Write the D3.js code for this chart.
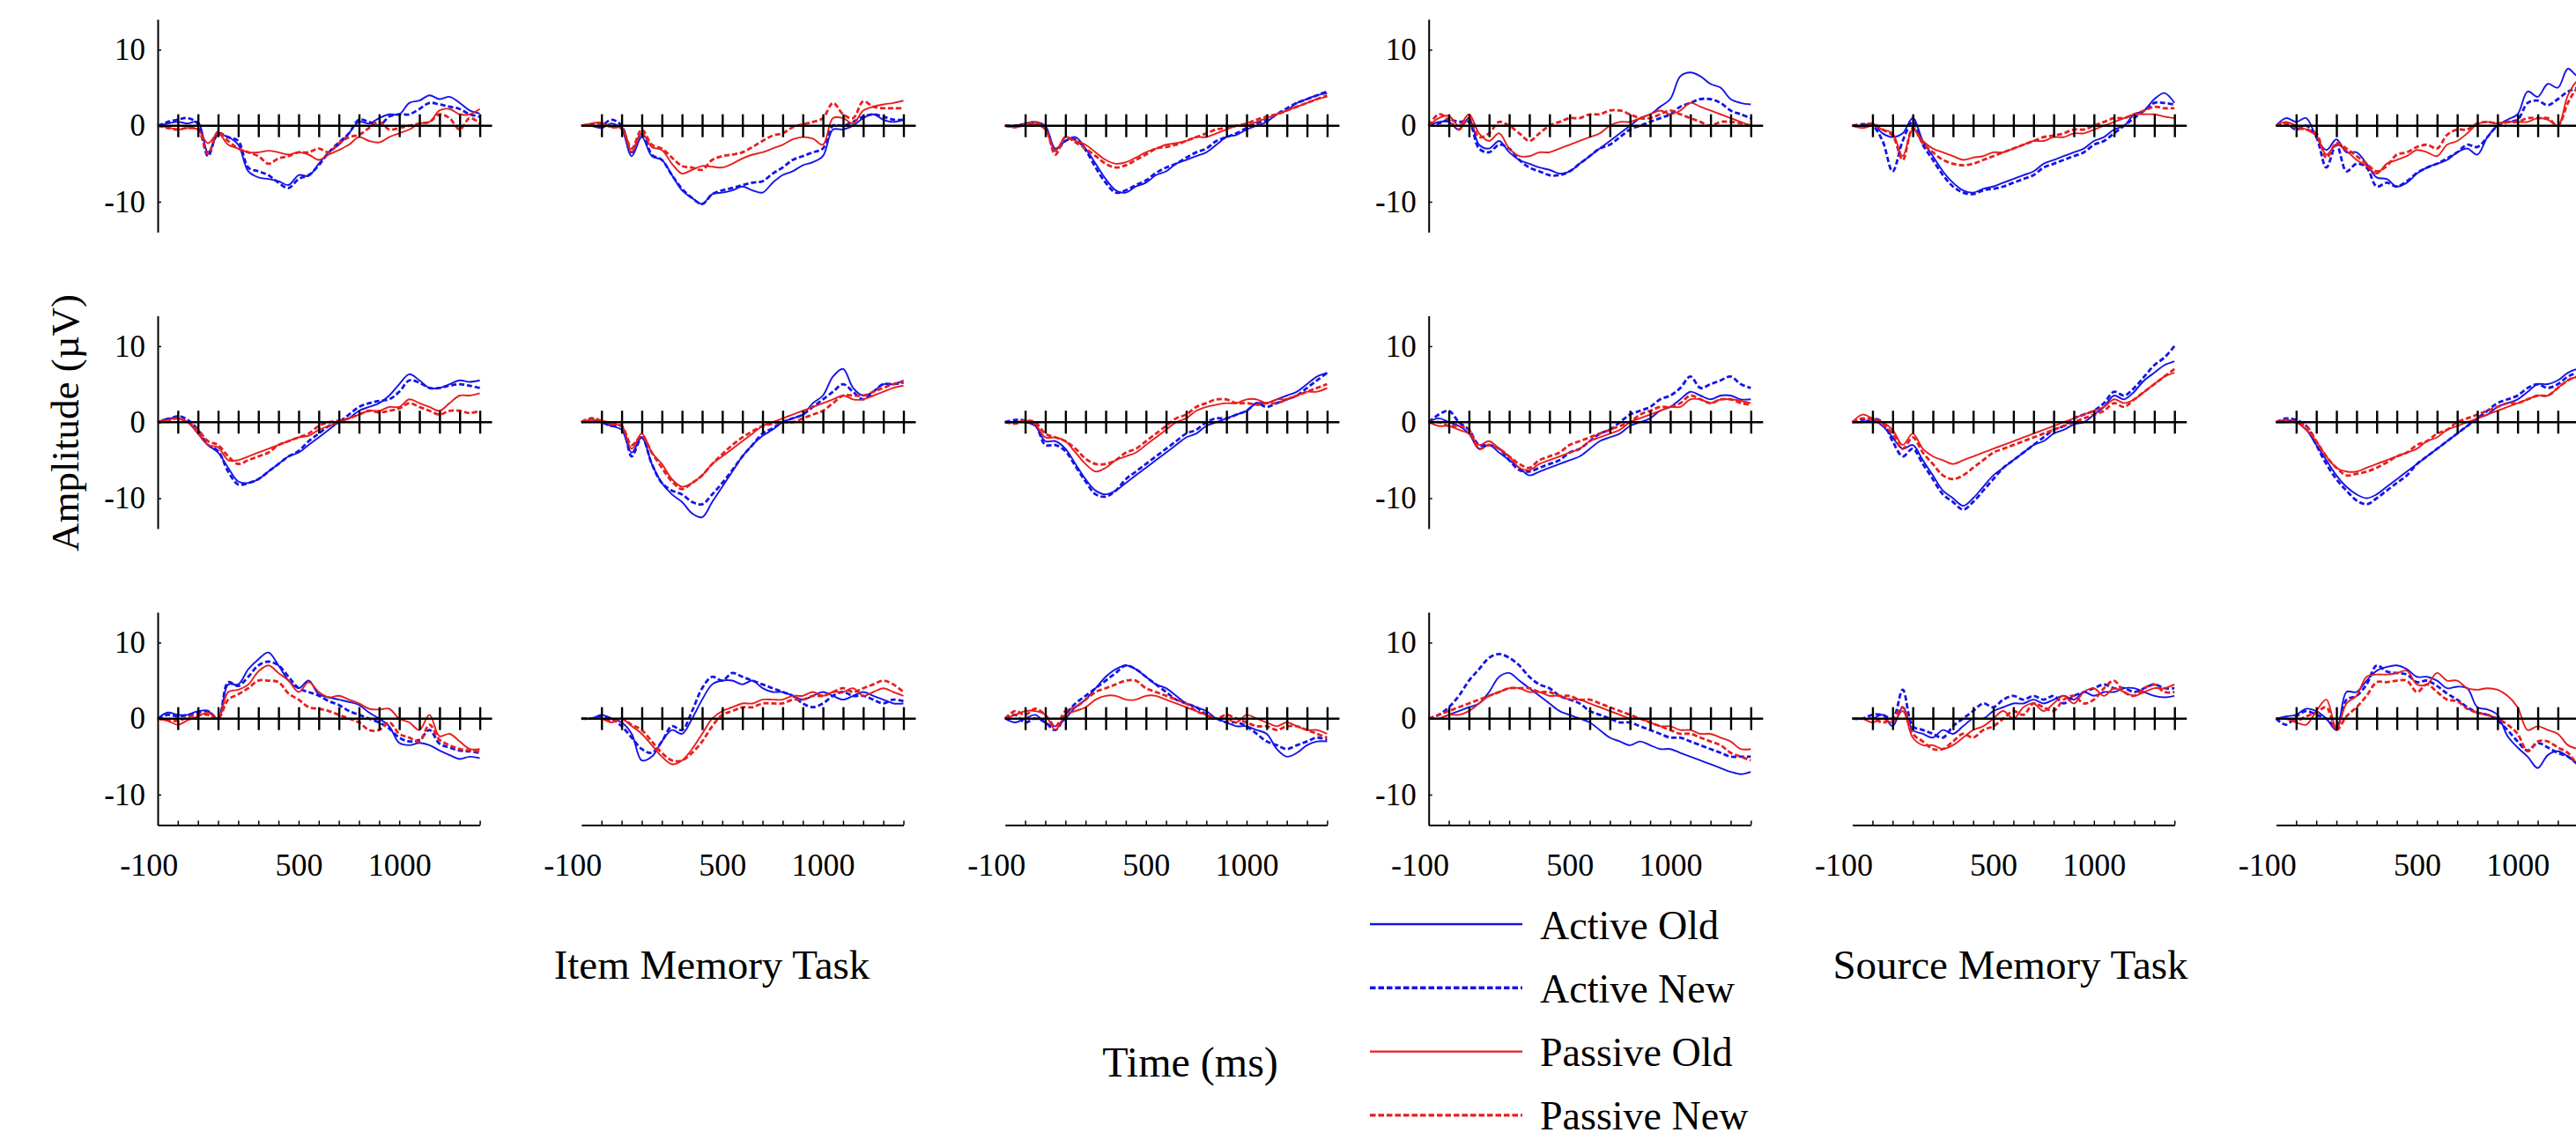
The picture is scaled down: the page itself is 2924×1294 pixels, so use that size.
<!DOCTYPE html>
<html>
<head>
<meta charset="utf-8">
<script src="https://cdn.jsdelivr.net/npm/d3@7"></script>
<style>
  body { margin: 0; background: #fff; }
  svg text { font-family: "Liberation Serif", "Times New Roman", serif; fill: #000; }
</style>
</head>
<body>
<script>
// sample times (ms) of every trace
const times = [-200,-150,-100,-50,0,50,100,150,200,250,300,350,400,450,500,550,600,650,700,750,800,850,900,950,1000,1050,1100,1150,1200,1250,1300,1350,1400];
const seriesNames = ["Active Old", "Active New", "Passive Old", "Passive New"];
const yTicks = [-10, 0, 10];
const xTicks = [-100,0,100,200,300,400,500,600,700,800,900,1000,1100,1200,1300,1400];
const xTickLabels = [-100, 500, 1000];
const taskLabels = ["Item Memory Task", "Source Memory Task"];

// each panel: [Active Old, Active New, Passive Old, Passive New] in µV
const item_r1_c1 = [
  [0,0.3,0.5,0.3,0.5,-3.5,-1.2,-1.5,-2.5,-6,-6.8,-7,-7.3,-7.8,-6.5,-6.6,-5,-3.5,-2.5,-1,0.5,0.3,1,1.5,1.5,3,3.3,4,3.5,3.8,3,2,1.6],
  [0,0.5,0.8,1,0.2,-4,-1,-1.5,-2,-5.5,-6,-6.5,-7.5,-8.2,-7,-6.5,-5.2,-3.5,-2.2,-1,0.8,0.5,0,1.2,1.5,1.5,2.2,3,2.8,2.5,2.2,1.5,1.2],
  [0,-0.2,-0.5,-0.3,-0.5,-2.3,-1,-2.5,-3,-3.5,-3.5,-3.3,-3.5,-3.8,-3.5,-3.8,-4.5,-3.8,-3.2,-2.5,-1.5,-2,-2.2,-1.5,-1,-0.5,0.3,0.5,2,2.2,1.5,1.5,2.2],
  [0,-0.3,-0.5,-0.3,-0.5,-3.7,-0.8,-2,-3,-3.5,-4,-5,-4.3,-4,-3.5,-3.5,-3,-3.5,-2.3,-1.5,-1.2,-0.3,0.5,-0.5,-0.3,0,0.3,0.5,1.5,1,-0.5,1,0.3]
];
const item_r1_c2 = [
  [0,0,-0.3,0.3,-0.5,-4,-1.5,-4,-4.5,-6.5,-8.5,-9.5,-10.3,-9,-8.8,-8.5,-8,-8.5,-8.8,-7.5,-6.5,-6,-5.2,-4.8,-4,-0.5,-0.5,0,1,1.5,0.8,0.5,0.8],
  [0,0,0,0.8,0,-3.5,-1,-3.8,-4.5,-6.5,-8.3,-9.5,-10.3,-9,-8.5,-8.2,-7.8,-7.5,-7.3,-6.3,-5.5,-4.5,-4,-3.5,-3,0,0,0.5,1.2,1.5,1.2,0.8,0.8],
  [0,0.3,0.4,-0.2,-0.3,-3.5,-1,-2.8,-3.2,-5,-6.3,-5.8,-5.3,-5.4,-5.5,-5,-4.3,-3.8,-3.5,-3,-2.5,-1.8,-1.5,-1.7,-2.5,1,1,0.3,2,2.5,2.8,3,3.3],
  [0,0.2,0.3,-0.2,-0.3,-3,-0.5,-2.5,-3,-4.2,-5.3,-5.5,-5.8,-4.5,-4,-3.8,-3.5,-2.8,-2,-1.3,-1,-0.2,0.2,0.5,1,3,1.5,1,3.2,2.5,2.3,2.3,2.3]
];
const item_r1_c3 = [
  [0,0,0.3,0.5,0,-3,-2,-1.5,-3,-5,-7,-8.5,-8.8,-8,-7.5,-6.5,-6,-5,-4.5,-4,-3.5,-2.5,-1.5,-1.2,-0.5,0,0.5,1.5,2,3,3.5,4,4.3],
  [0,0,0.2,0.3,-0.3,-3.3,-2,-1.8,-3.2,-5.5,-7.5,-8.8,-8.5,-7.8,-7.2,-6.2,-5.5,-5,-4.2,-3.5,-3,-2,-1.5,-1,-0.3,0.3,0.8,1.5,2.3,3,3.5,4,4.5],
  [0,-0.2,0,0.2,-0.5,-3.3,-1.5,-2,-2.5,-3.5,-4.5,-5,-4.8,-4.2,-3.5,-3,-2.5,-2.3,-2,-1.5,-1.5,-1,-0.5,0,0,0.5,1,1.5,2,2.5,3,3.5,3.8],
  [0,-0.2,0.2,0.5,-0.3,-3.8,-1.5,-2.2,-3,-4,-5,-5.5,-5.2,-4.5,-3.8,-3,-2.8,-2.5,-2,-1.5,-1,-0.5,-0.3,0,0.3,0.8,1.2,1.5,2,2.5,3,3.5,4]
];
const source_r1_c1 = [
  [0,0.5,0.5,-0.5,1,-2.5,-3,-2,-3.5,-4.5,-5,-5.5,-5.8,-6.3,-6,-5,-4,-3,-2,-1,0,1,1.5,2.5,3.5,6.5,7,6.5,5.5,5,3.5,3,2.8],
  [0,0.3,0.8,0.5,0.5,-3,-3.5,-2.5,-3,-4.5,-5.5,-6,-6.5,-6.5,-6,-5,-4,-3,-2.5,-1.5,-0.5,0,0.5,1,1.5,2.5,3,3.5,3.5,3,2,1.5,1],
  [0,1,1.3,0,1.5,-1,-2,-1,-3,-4,-4,-3.5,-3.5,-3,-2.5,-2,-1.5,-1,0,0.5,0.5,1,1.5,2,1.5,2,3,2.5,2,1.5,1,0.5,0],
  [0,1.5,0.8,-0.5,1,-1.5,-1,0.5,0,-1,-2,-1,0,0.5,1,1,1.5,1.5,2,2,1.5,1,1,1.5,2,1.5,1,0.5,0,0.5,0.5,0.3,0]
];
const source_r1_c2 = [
  [0,0,0.3,-1,-1.5,-1,1,-2,-4,-6,-7.5,-8.5,-8.8,-8.3,-8,-7.5,-7,-6.5,-6,-5,-4.5,-4,-3.5,-3,-2,-1.5,-0.5,0,1.5,2,3.5,4.3,3],
  [0,0.2,0,-2,-6,-2,0.5,-2.5,-4.5,-6.5,-8,-8.8,-9,-8.5,-8.3,-8,-7.5,-7,-6.5,-5.5,-5,-4.5,-4,-3.5,-2.5,-2,-1,0,1,2,3,3,2.8],
  [0,-0.3,0,-0.5,-1,-4,-0.5,-2,-3,-3.5,-4,-4.5,-4.2,-4,-3.5,-3.5,-3,-2.5,-2,-2,-1.5,-1.5,-1,-1,-0.5,0,0.5,1,1.5,1.5,1.5,1.2,1],
  [0,0,0.3,-0.5,-1.3,-4.5,-0.3,-2.3,-3.5,-4.5,-5,-5.2,-5,-4.5,-4,-3.5,-3,-2.5,-2,-1.5,-1.3,-1,-0.5,-0.5,0,0.5,1,1,1.5,2,2.5,2.3,2.3]
];
const source_r1_c3 = [
  [0,1,0.5,1,-1.5,-3.2,-1.8,-3.5,-3.5,-5,-6.8,-7,-8,-7.5,-6.3,-5.5,-5,-4.5,-3.5,-3,-3.8,-1.5,0,0.8,1.5,4.5,3.8,5.5,5,7.5,6.5,7,6.5],
  [0,0.3,-0.5,0,-1.5,-5.5,-2.5,-6,-5,-5.5,-8,-7.5,-8,-7.3,-6.2,-5.5,-5,-4.3,-3.5,-2.5,-2.8,-1.5,0,0.5,0.8,3,3.3,2.7,3.5,4.5,5,5.5,5],
  [0,0.5,0,-0.5,-1.3,-3.8,-2.5,-3.3,-4.5,-5.3,-6.3,-5,-4.5,-4,-3.2,-3.5,-4,-2.5,-2,-1,0.2,0.5,0.3,0.5,0.5,0.5,1,0.8,0,4,6,6.5,6],
  [0,0.3,-0.3,-0.5,-1,-4.2,-2.3,-3,-4,-5,-6,-5.3,-3.8,-3.5,-2.8,-2.5,-3,-1.2,-0.5,-0.5,0.3,0.5,0.3,0.5,0.5,1,1,1,0,3,5,5.5,5]
];
const item_r2_c1 = [
  [0,0.5,0.5,0,-1.5,-3,-4,-6,-7.8,-8,-7.5,-6.5,-5.5,-4.5,-4,-3,-2,-1,0,0.5,1.5,2,2.5,3.5,5,6.3,5.5,4.5,4.5,5,5.5,5.3,5.5],
  [0,0.3,0.8,0.3,-1,-3,-3.8,-6.5,-8.2,-8,-7.5,-6.5,-5.5,-4.5,-3.8,-2.5,-1.5,-0.5,0,1,2,2.5,2.8,3,4,5.5,5.2,4.5,4.5,4.8,5,4.8,4.5],
  [0,0.3,0.5,0,-1.5,-3,-3.3,-5,-5,-4.5,-4,-3.5,-3,-2.5,-2,-1.8,-1,-0.5,0,0.5,1,1.5,1.5,2,2,3,2.5,2,1.5,2.5,3.5,3.5,3.8],
  [0,0.2,0.5,0,-1,-2.5,-3,-4.5,-5.5,-5,-4.5,-4,-3,-2.5,-2,-1.5,-0.5,0,0.2,0.5,1,1.5,1.3,1.5,1.8,2.5,2,1.5,1,1.5,1.5,1.2,1.5]
];
const item_r2_c2 = [
  [0,0.3,0,-0.5,-1,-4,-2,-5.5,-8,-9.5,-10.5,-12,-12.5,-10.5,-8.5,-6.5,-4.5,-3,-1.8,-1,0,0.5,1,2.5,3.5,6,7,4.5,3.5,4,5,5,5.5],
  [0,0.5,0,-0.5,-0.5,-4.5,-2,-5.5,-8,-9,-9.5,-10.5,-10.8,-9.5,-8,-6.3,-4.5,-3,-1.5,-0.8,0,0.5,1,2,3,4,5,4,3,4,5,5,5.2],
  [0,0.3,0.2,-0.3,-0.5,-3.5,-1.5,-4,-5.5,-7.5,-8.5,-8,-7,-5.5,-4.5,-3.5,-2.5,-1.5,-0.5,0,0.5,1,1.5,2,2.5,3,3.5,3,3,3.5,4,4.5,4.8],
  [0,0.5,0.2,-0.2,-0.5,-3,-1.8,-4,-6,-7.8,-8.8,-8,-7,-5.5,-4.2,-3,-2,-1.2,-0.5,-0.2,0,0,0.5,1,1.5,2.5,3.5,3.5,3.5,4,4.5,5,5.3]
];
const item_r2_c3 = [
  [0,0,0,-0.5,-2.5,-2.5,-3.5,-5.5,-7.5,-9,-9.5,-9,-8,-7,-6,-5,-4,-3,-2,-1.5,-0.5,0,0.5,1,1.5,2.5,2.5,3,3.5,4,5,6,6.5],
  [0,0.3,0.2,-0.3,-3,-3,-3.8,-5.8,-7.8,-9.5,-9.8,-9,-7.5,-6.5,-5.5,-4.5,-3.5,-2.5,-1.5,-1,0,0.5,0.5,1,1.5,2.5,2,2.5,3,3.5,4.5,5.5,6.5],
  [0,0,0.2,-0.3,-2,-2,-2.5,-4,-5.5,-6.5,-6,-5,-4.5,-4,-3,-2,-1,0,0.5,1.5,2,2.3,2.5,2.5,3,3,2.5,3,3,3.5,4,4,4.5],
  [0,-0.2,0.2,0,-1.5,-2,-2.5,-3.5,-4.8,-5.5,-5.5,-5,-4,-3.5,-2.5,-1.5,-0.5,0.5,1,2,2.5,3,3,2.5,2.5,2.3,2.5,2.5,3,3.5,4,4.5,5]
];
const source_r2_c1 = [
  [0,0.5,0,-0.5,-1.5,-3.5,-3,-4,-5,-6,-7,-6.5,-6,-5.5,-5,-4.5,-3.5,-2.5,-2,-1.5,-0.5,0,0.5,1.5,2,3,4,3.5,3,3.5,3.5,3,3],
  [0,1,1.5,0,-1,-3,-3,-3.5,-5,-6.3,-6.5,-6,-5.5,-5,-4,-3.5,-2.5,-1.5,-1,0,1,1.5,2,3,3.5,4.5,6,4.5,5,5.5,6,5,4.5],
  [0,-0.5,-0.5,-1,-1.5,-3,-2.5,-3.5,-4.5,-6,-6.3,-5.5,-5,-4.5,-4,-3.5,-2.5,-2,-1.5,-1,0,0.5,1,1.5,2,2,3,3,2.5,3,3,2.8,2.5],
  [0,0,-0.5,-0.5,-1,-3.5,-3,-3.5,-4.5,-5.5,-6,-5,-4.5,-4,-3,-2.5,-2,-1.5,-1,-0.5,0,1,1.5,2,2,2.5,3.5,3,2.5,3,3,2.5,2.3]
];
const source_r2_c2 = [
  [0,0,0.3,-0.5,-2,-3.5,-3,-5,-7,-9,-10,-11,-10,-8.5,-7,-6,-5,-4,-3,-2.5,-1.5,-1,-0.3,0,1,2,3.5,3,4,5.5,6.5,7.5,8],
  [0,0.3,0.5,0,-2.5,-4.5,-3.5,-5.5,-7.5,-9.5,-10.5,-11.5,-10.5,-9,-7.5,-6,-5,-4,-3,-2,-1,-0.5,0.5,1,1.5,2.5,4,3.5,4.5,6,7.5,8.5,10],
  [0,1,0.5,0,-1,-3,-1.5,-3.5,-4.5,-5,-5.5,-5,-4.5,-4,-3.5,-3,-2.5,-2,-1.5,-1,-0.5,0,0.5,1,1.5,2,3,2.5,3,4,5,6,6.5],
  [0,0.5,0.3,-0.3,-1.5,-3.5,-2,-4,-5.5,-7,-7.5,-7,-6,-5,-4,-3.5,-3,-2.5,-2,-1.5,-1,-0.5,0,0.5,1,1.5,2.5,2,3,4,5,6,7]
];
const source_r2_c3 = [
  [0,0.3,0,-1,-3,-5,-7,-8.5,-9.5,-10,-9.5,-8.5,-7.5,-6.5,-5.5,-4.5,-3.5,-2.5,-1.5,-0.5,0.5,1,2,2.5,3,4,5,5,5.5,6.5,7,7,7],
  [0,0.5,0.3,-0.5,-3,-5.5,-7.5,-9,-10.3,-10.8,-10,-9,-8,-7,-5.5,-4.5,-3.5,-2.5,-1.5,-0.5,0.5,1.5,2.5,3,3.5,4.5,5,4.5,5,6,6.5,6.5,6.5],
  [0,0,0,-1,-2.5,-4.5,-6,-6.5,-6.5,-6,-5.5,-5,-4.5,-4,-3.5,-2.5,-2,-1,-0.5,0,0.5,1,1.5,2,2.5,3,3.5,3.5,4.5,5.5,6,6,6],
  [0,0.3,0,-0.5,-2.5,-4.5,-6,-7,-6.8,-6.5,-6,-5.3,-4.5,-4,-3,-2.5,-1.5,-1,0,0.5,1,1.5,2,2.5,2.5,3,3.5,3.5,4.5,5.5,6,6,6]
];
const item_r3_c1 = [
  [0,0.8,0.5,0.5,1,1,0,4.5,4.5,6.5,7.8,8.7,7,5,4,5,3.2,2.8,2.5,2.2,1.8,0.8,0,-1,-3.2,-3.5,-3.2,-3.5,-4.2,-4.8,-5.3,-5,-5.2],
  [0,0.5,0.3,0.5,0.8,1,0,4.8,4.3,5.5,7,7.5,7,5.5,4,3.5,3,2.3,1.8,1,0.5,0,-0.5,-1.3,-2.5,-3,-2.8,-1.5,-3.3,-3.8,-4.2,-4.3,-4.5],
  [0,-0.3,-0.8,-0.2,0.3,0.8,0,3.5,3.8,4.5,6.2,7,6,5,3.5,4.8,3.5,2.8,3,2.5,2,1.3,1.2,1.3,0,-0.5,-1.5,0.5,-2.3,-2,-3,-4,-4],
  [0,-0.2,-0.3,0.2,0.5,0.5,0,2.5,3.2,4,5,5,4.8,3.3,2.5,1.5,1.3,1,0.5,0,-0.5,-1.5,-1.5,-0.5,-2,-2.5,-3,-0.8,-2.8,-3.5,-4,-4.2,-4.3]
];
const item_r3_c2 = [
  [0,0,0.5,0,-0.5,-2,-5.5,-5,-3,-1.5,-2,0,2.5,4.5,5,5,4.5,5,4,3.5,3.5,3,2.5,3,3.5,3,2.5,3,3.5,3,2.5,2,2],
  [0,0,0.3,0,-1,-2.5,-4,-4.5,-3,-1,-1.5,1,4,5.5,5,6,5.5,5,4.5,4,3.5,3,2,1.5,2,3,3.5,3,3,2.5,2,2.5,2.3],
  [0,0,0,-0.5,0,-1,-2,-3.5,-5,-6,-5.5,-4,-2,0,1,1.5,2,2,2.5,2.5,2.5,3,3,3.5,3,3.5,3.5,4,3,3.5,4,3.5,3],
  [0,0,0,-0.3,0,-0.8,-1.5,-3,-4.5,-5.5,-5.5,-4.5,-3,-1,0.5,1,1.5,1.5,2,2,2,2.5,2.5,3,3,3.5,4,3.5,4,4.5,5,4.5,3.5]
];
const item_r3_c3 = [
  [0,-0.5,0,0.5,-0.5,-1,0,1.5,2.5,4,5.5,6.5,7,6.5,5.5,4.5,4,3,2,1.5,1,0,-0.5,-1,-1,-1.5,-2,-4,-5,-4.5,-3.5,-3,-3],
  [0,0.5,-0.5,0,-0.5,-1.5,0.5,2,3,4,5,6,7,6.5,5.5,4.5,3.5,2.5,2,1.5,0.5,0,-0.5,-0.5,-1,-2,-3,-3.5,-4,-3.5,-3,-2.5,-2.8],
  [0,0.5,1,1,0.5,-1.5,0.5,1,1.5,2.5,3,3,2.5,2.5,3,3,2.5,2,1.5,1,0.5,0,0,-0.5,0.5,0,-0.5,-1,-0.5,-1,-1.5,-1.5,-2],
  [0,1,0.5,1.3,0.5,-1,1,1.5,2.5,3.5,4,4.5,5,5,4,3.5,3,2.5,2,1,0.5,0,0.5,0,-0.5,-1,-1,-1.5,-1,-1,-1.5,-2,-2.5]
];
const source_r3_c1 = [
  [0,0,0.5,1,1.5,2,3.5,5.5,6,5,4,3,2,1,0.5,0,-0.5,-1.5,-2.5,-3,-3.5,-3,-3.5,-4,-4,-4.5,-5,-5.5,-6,-6.5,-7,-7.3,-7],
  [0,0.5,1.5,3,5,6.5,8,8.5,8,7,5.5,4.5,4,3,2.5,2,1,0.5,0,-0.5,-0.5,-1,-1.5,-2,-2.5,-2.5,-3,-3.5,-4,-4.5,-5,-5,-5],
  [0,0,0.5,0.5,1,2,3,3.5,4,4,3.5,3.5,3,3,2.5,2.5,2,1.5,1,0.5,0,0,-0.5,-1,-1,-1.5,-1.5,-2,-2,-2.5,-3,-4,-4],
  [0,0.5,1,1.5,2,2.5,3,3.5,4,4,4,3.5,3.5,3,3,2.5,2.5,2,1.5,1,0.5,0,-0.5,-1,-1.5,-2,-2,-2.5,-3,-3.5,-4.5,-5,-5.5]
];
const source_r3_c2 = [
  [0,0,0,0.5,-1,1.5,-1.5,-2,-2.5,-1.5,-2,-1,0,0,1,1.5,2,2,2.5,2,2.5,3,2.5,3.5,3,3.5,3.5,4,4,3.5,3,2.8,3],
  [0,0,0.5,0.5,0,3.8,-1,-1.5,-2,-2.5,-1,0,1,2,1.5,2.5,3,2.5,3,2.5,3,2,3,3.5,4,4.5,4,4,3.5,4,4.5,4,4],
  [0,0,-0.5,0,-0.5,1,-2.5,-3.5,-3.5,-4,-3.5,-2.5,-1.5,-1,0,1,0,1.5,2,1,2,3,2,3.5,4,3,4,3.5,3,3.5,4,4,4.5],
  [0,0,0,-0.5,0,1.5,-2,-3,-4,-4,-3,-2,-2.5,-1.5,-1,0,1,0.5,2,1.5,1,2.5,3,2,2.5,4,5,3.5,3,4,4.5,3.5,3.5]
];
const source_r3_c3 = [
  [0,0.3,0.5,1.3,1,0,-1.5,3.5,3.5,5,6.3,6.8,7,6.5,5.5,5.5,5,4,4.2,4,1.5,1.2,0.5,-2.3,-3.8,-5,-6.5,-4.8,-4.3,-5,-6,-6.5,-6.5],
  [0,-0.8,0.3,1,0.5,0,-1,2.5,3,4.5,7,6.2,6,5.8,4.8,5,4.3,3.3,2.5,1.5,0.8,0.5,-0.2,-1.5,-3,-4.2,-3.2,-3.8,-4.5,-5,-6,-6.5,-6.5],
  [0,0,-0.5,-0.8,1,2.5,-1.3,2,3,5.5,5.8,5.8,6,6.3,4.5,4.5,6,5,5,4,3.8,4,3.8,3,1.5,-1.5,-1,-1.5,-2,-3.5,-4,-4.5,-4.5],
  [0,0,-0.3,0.3,0.8,1.5,-1.5,0.3,1.5,3,4.8,4.8,5,5,3.5,4.5,3.5,2.5,2.3,1.3,0.8,0.5,0,-0.8,-2,-4.3,-3,-3,-3.8,-4.5,-6,-6.3,-6.5]
];

const panelGrid = [
  [item_r1_c1, item_r1_c2, item_r1_c3, source_r1_c1, source_r1_c2, source_r1_c3],
  [item_r2_c1, item_r2_c2, item_r2_c3, source_r2_c1, source_r2_c2, source_r2_c3],
  [item_r3_c1, item_r3_c2, item_r3_c3, source_r3_c1, source_r3_c2, source_r3_c3]
];

(function(){
  const SVG_WIDTH = 2924;
  const SVG_HEIGHT = 1294;
  const COL_LEFT = 179, COL_STEP = 480.9, PANEL_W = 365.6;
  const ROW_ZERO = 142.7, ROW_STEP = 336.5, HALF_H = 120.8;
  const FONT = '"Liberation Serif", "Times New Roman", serif';
  const BLUE = '#1414e8', RED = '#e81e1e';
  const colors = [BLUE, BLUE, RED, RED];
  const dashed = [false, true, false, true];

  const svg = d3.select('body').append('svg')
    .attr('width', SVG_WIDTH)
    .attr('height', SVG_HEIGHT);

  function drawPanel(panel, r, c){
    const x0 = COL_LEFT + c * COL_STEP;
    const zeroY = ROW_ZERO + r * ROW_STEP;
    const x = d3.scaleLinear().domain([-200, 1400]).range([x0, x0 + PANEL_W]);
    const y = d3.scaleLinear().domain([-14, 14]).range([zeroY + HALF_H, zeroY - HALF_H]);
    const g = svg.append('g').attr('class', 'panel');

    // ERP traces
    const line = d3.line()
      .x(function(d, i){ return x(times[i]); })
      .y(function(d){ return y(d); })
      .curve(d3.curveCatmullRom.alpha(0.5));
    panel.forEach(function(vals, s){
      g.append('path')
        .datum(vals.slice(0, times.length))
        .attr('fill', 'none')
        .attr('stroke', colors[s])
        .attr('stroke-width', dashed[s] ? 2.8 : 1.9)
        .attr('stroke-dasharray', dashed[s] ? '6,3' : null)
        .attr('stroke-linejoin', 'round')
        .attr('d', line);
    });

    // y axis only on the first panel of each task
    if(c % 3 == 0){
      const ya = g.append('g')
        .attr('transform', 'translate(' + x0 + ',0)')
        .call(d3.axisLeft(y).tickValues(yTicks).tickSizeInner(-4).tickSizeOuter(0)
          .tickPadding(14).tickFormat(function(d){ return String(d); }));
      ya.attr('font-family', FONT).attr('font-size', 35);
      ya.select('.domain').attr('stroke-width', 2);
      ya.selectAll('.tick line').attr('stroke-width', 1.5);
    }

    // zero line with crossing ticks
    g.append('line')
      .attr('x1', x.range()[0]).attr('x2', x.range()[1] + 14)
      .attr('y1', y(0)).attr('y2', y(0))
      .attr('stroke', '#000').attr('stroke-width', 2.4);
    [d3.axisBottom(x), d3.axisTop(x)].forEach(function(ax){
      const zg = g.append('g')
        .attr('transform', 'translate(0,' + y(0) + ')')
        .call(ax.tickValues(xTicks).tickSize(13).tickFormat(''));
      zg.select('.domain').remove();
      zg.selectAll('.tick line').attr('stroke-width', 2.4);
    });

    // time axis on the bottom row
    if(r == 2){
      const xa = g.append('g')
        .attr('transform', 'translate(0,' + y(-14) + ')')
        .call(d3.axisBottom(x).tickValues(xTicks).tickSizeInner(-5).tickSizeOuter(0)
          .tickPadding(32)
          .tickFormat(function(d){ return xTickLabels.indexOf(d) >= 0 ? String(d) : ''; }));
      xa.attr('font-family', FONT).attr('font-size', 36);
      xa.select('.domain').attr('stroke-width', 2);
      xa.selectAll('.tick line').attr('stroke-width', 1.5);
      xa.selectAll('.tick text')
        .filter(function(d){ return d == xTickLabels[0]; })
        .attr('text-anchor', 'end');
    }
  }

  panelGrid.forEach(function(row, r){
    row.forEach(function(panel, c){ drawPanel(panel, r, c); });
  });

  // axis titles
  svg.append('text')
    .attr('transform', 'translate(89,480) rotate(-90)')
    .attr('text-anchor', 'middle')
    .attr('font-size', 45)
    .text('Amplitude (\u00b5V)');
  svg.append('text')
    .attr('x', 1351).attr('y', 1222)
    .attr('text-anchor', 'middle')
    .attr('font-size', 48)
    .text('Time (ms)');

  // task labels under each group of three columns
  const taskCenters = [808, 2282];
  taskLabels.forEach(function(t, i){
    svg.append('text')
      .attr('x', taskCenters[i]).attr('y', 1111)
      .attr('text-anchor', 'middle')
      .attr('font-size', 47)
      .text(t);
  });

  // legend
  const legend = svg.append('g').attr('class', 'legend');
  seriesNames.forEach(function(name, i){
    const ly = 1049 + i * 72.3;
    legend.append('line')
      .attr('x1', 1555).attr('x2', 1728)
      .attr('y1', ly).attr('y2', ly)
      .attr('stroke', colors[i])
      .attr('stroke-width', dashed[i] ? 3.4 : 2.4)
      .attr('stroke-dasharray', dashed[i] ? '6.5,3' : null);
    legend.append('text')
      .attr('x', 1748).attr('y', ly + 16.5)
      .attr('font-size', 46)
      .text(name);
  });
})();
</script>
</body>
</html>
